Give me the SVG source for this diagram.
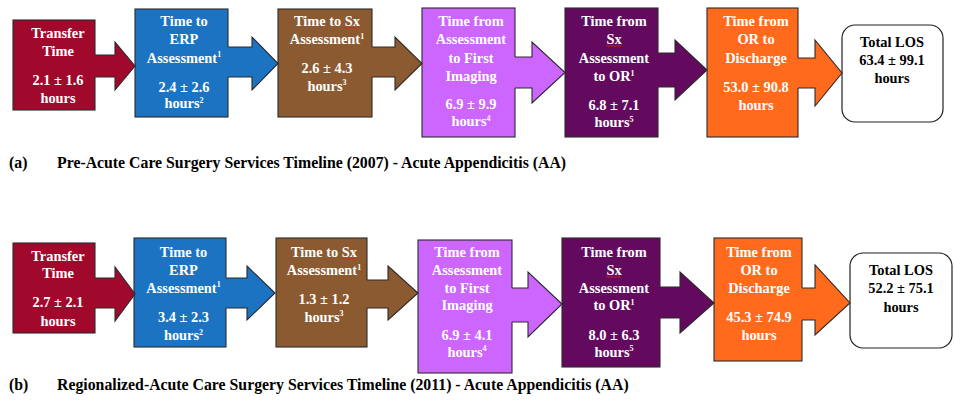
<svg xmlns="http://www.w3.org/2000/svg" width="954" height="403" viewBox="0 0 954 403">
<style>
text{font-family:"Liberation Serif","Times New Roman",serif;font-weight:bold;font-size:14.4px;text-anchor:middle;fill:#fff}
.dk{fill:#000}
.cap{font-size:15.8px;text-anchor:start;fill:#000}
.box{stroke:#2a2a2a;stroke-width:1.1}
.ol{fill:none;stroke:#2a2a2a;stroke-width:1.1;stroke-linejoin:miter}
.red{fill:#A1092C}.blue{fill:#1B73C2}.brown{fill:#8C5A30}.lpur{fill:#CC66FF}.dpur{fill:#640A5E}.orange{fill:#FF6A1C}
.tot{fill:#fff;stroke:#222;stroke-width:1.2}
.sq{fill:none;stroke:#e0201b;stroke-width:0.9}
.sup{font-size:8px}
</style>
<rect width="954" height="403" fill="#fff"/>

<!-- Row (a) nodes -->
<g id="a1"><rect class="box red" x="13" y="20" width="82" height="90"/>
<text x="58" y="38.3">Transfer</text><text x="58" y="56">Time</text><text x="58" y="85">2.1 ± 1.6</text><text x="58" y="102.7">hours</text></g>
<g id="a2"><rect class="box blue" x="135" y="9" width="93" height="108"/>
<text x="184" y="26">Time to</text><text x="184" y="44">ERP</text><text x="184" y="62.7">Assessment<tspan class="sup" dy="-5.5">1</tspan></text><text x="184" y="91.7">2.4 ± 2.6</text><text x="184" y="108.3">hours<tspan class="sup" dy="-5.5">2</tspan></text></g>
<g id="a3"><rect class="box brown" x="278" y="9" width="94" height="108"/>
<text x="327" y="26">Time to Sx</text><text x="327" y="44">Assessment<tspan class="sup" dy="-5.5">1</tspan></text><text x="327" y="73.3">2.6 ± 4.3</text><text x="327" y="90.7">hours<tspan class="sup" dy="-5.5">3</tspan></text>
<path class="sq" d="M343 28.5 l1.5 -1.2 l1.5 1.2 l1.5 -1.2 l1.5 1.2 l1.5 -1.2 l1.5 1.2 l1.5 -1.2 l1.5 1.2 l1.5 -1.2 l1.5 1.2 l1.5 -1.2"/></g>
<g id="a4"><rect class="box lpur" x="422" y="8" width="93" height="129"/>
<text x="471" y="26">Time from</text><text x="471" y="44">Assessment</text><text x="471" y="62.7">to First</text><text x="471" y="81">Imaging</text><text x="471" y="109">6.9 ± 9.9</text><text x="471" y="126">hours<tspan class="sup" dy="-5.5">4</tspan></text></g>
<g id="a5"><rect class="box dpur" x="565" y="8" width="93" height="129"/>
<text x="614" y="26">Time from</text><text x="614" y="44">Sx</text><text x="614" y="62.7">Assessment</text><text x="614" y="81">to OR<tspan class="sup" dy="-5.5">1</tspan></text><text x="614" y="110">6.8 ± 7.1</text><text x="614" y="127">hours<tspan class="sup" dy="-5.5">5</tspan></text>
<path class="sq" d="M606 46.5 l1.5 -1.2 l1.5 1.2 l1.5 -1.2 l1.5 1.2 l1.5 -1.2 l1.5 1.2 l1.5 -1.2 l1.5 1.2 l1.5 -1.2 l1.5 1.2"/></g>
<g id="a6"><rect class="box orange" x="707" y="8" width="91" height="129"/>
<text x="756" y="26">Time from</text><text x="756" y="44">OR to</text><text x="756" y="62.7">Discharge</text><text x="756" y="91.7">53.0 ± 90.8</text><text x="756" y="110">hours</text></g>
<g id="a7"><rect class="tot" x="842" y="25" width="101" height="97" rx="13"/>
<text class="dk" x="892" y="46.7">Total LOS</text><text class="dk" x="892" y="65">63.4 ± 99.1</text><text class="dk" x="892" y="83">hours</text></g>

<!-- Row (b) nodes -->
<g id="b1"><rect class="box red" x="13" y="243" width="82" height="90"/>
<text x="58" y="260.7">Transfer</text><text x="58" y="278.3">Time</text><text x="58" y="307.3">2.7 ± 2.1</text><text x="58" y="326">hours</text></g>
<g id="b2"><rect class="box blue" x="134" y="238" width="92" height="109"/>
<text x="183.5" y="256.7">Time to</text><text x="183.5" y="275">ERP</text><text x="183.5" y="292.7">Assessment<tspan class="sup" dy="-5.5">1</tspan></text><text x="183.5" y="321.7">3.4 ± 2.3</text><text x="183.5" y="340">hours<tspan class="sup" dy="-5.5">2</tspan></text></g>
<g id="b3"><rect class="box brown" x="276" y="238" width="91" height="109"/>
<text x="324" y="256.7">Time to Sx</text><text x="324" y="275">Assessment<tspan class="sup" dy="-5.5">1</tspan></text><text x="324" y="304">1.3 ± 1.2</text><text x="324" y="321.7">hours<tspan class="sup" dy="-5.5">3</tspan></text>
<path class="sq" d="M341 259.2 l1.5 -1.2 l1.5 1.2 l1.5 -1.2 l1.5 1.2 l1.5 -1.2 l1.5 1.2 l1.5 -1.2 l1.5 1.2 l1.5 -1.2 l1.5 1.2 l1.5 -1.2"/></g>
<g id="b4"><rect class="box lpur" x="418" y="240" width="94" height="133"/>
<text x="467" y="256.7">Time from</text><text x="467" y="275">Assessment</text><text x="467" y="292.7">to First</text><text x="467" y="310">Imaging</text><text x="467" y="340">6.9 ± 4.1</text><text x="467" y="356.7">hours<tspan class="sup" dy="-5.5">4</tspan></text></g>
<g id="b5"><rect class="box dpur" x="562" y="238" width="98" height="129"/>
<text x="614" y="256.7">Time from</text><text x="614" y="275">Sx</text><text x="614" y="292.7">Assessment</text><text x="614" y="310">to OR<tspan class="sup" dy="-5.5">1</tspan></text><text x="614" y="340">8.0 ± 6.3</text><text x="614" y="356.7">hours<tspan class="sup" dy="-5.5">5</tspan></text>
<path class="sq" d="M606 277.5 l1.5 -1.2 l1.5 1.2 l1.5 -1.2 l1.5 1.2 l1.5 -1.2 l1.5 1.2 l1.5 -1.2 l1.5 1.2 l1.5 -1.2 l1.5 1.2"/></g>
<g id="b6"><rect class="box orange" x="714" y="238" width="88" height="123"/>
<text x="759" y="256.7">Time from</text><text x="759" y="275">OR to</text><text x="759" y="292.7">Discharge</text><text x="759" y="321.7">45.3 ± 74.9</text><text x="759" y="340">hours</text></g>
<g id="b7"><rect class="tot" x="850" y="253" width="102" height="95" rx="13"/>
<text class="dk" x="901" y="275">Total LOS</text><text class="dk" x="901" y="293.3">52.2 ± 75.1</text><text class="dk" x="901" y="311.7">hours</text></g>

<!-- Connectors (callout arrows) -->
<g id="connectors">
<path class="red" d="M93.5 55 H115 V42 L135 66 L115 90 V77 H93.5 Z"/><path class="ol" d="M95 55 H115 V42 L135 66 L115 90 V77 H95"/>
<path class="blue" d="M226.5 47 H252 V37 L278 63.5 L252 90 V77 H226.5 Z"/><path class="ol" d="M228 47 H252 V37 L278 63.5 L252 90 V77 H228"/>
<path class="brown" d="M370.5 47 H395 V37 L422 63.5 L395 90 V77 H370.5 Z"/><path class="ol" d="M372 47 H395 V37 L422 63.5 L395 90 V77 H372"/>
<path class="lpur" d="M513.5 57 H532 V42 L565 72.5 L532 103 V88 H513.5 Z"/><path class="ol" d="M515 57 H532 V42 L565 72.5 L532 103 V88 H515"/>
<path class="dpur" d="M656.5 53 H675 V40 L707 70 L675 100 V87 H656.5 Z"/><path class="ol" d="M658 53 H675 V40 L707 70 L675 100 V87 H658"/>
<path class="orange" d="M796.5 58 H815 V40 L842 73 L815 106 V88 H796.5 Z"/><path class="ol" d="M798 58 H815 V40 L842 73 L815 106 V88 H798"/>

<path class="red" d="M93.5 278 H115 V267 L135 294 L115 321 V308 H93.5 Z"/><path class="ol" d="M95 278 H115 V267 L135 294 L115 321 V308 H95"/>
<path class="blue" d="M224.5 278 H247 V266 L275 293 L247 320 V308 H224.5 Z"/><path class="ol" d="M226 278 H247 V266 L275 293 L247 320 V308 H226"/>
<path class="brown" d="M365.5 280 H388 V266 L418 293 L388 320 V308 H365.5 Z"/><path class="ol" d="M367 280 H388 V266 L418 293 L388 320 V308 H367"/>
<path class="lpur" d="M510.5 288 H528 V272 L562 304 L528 337 V322 H510.5 Z"/><path class="ol" d="M512 288 H528 V272 L562 304 L528 337 V322 H512"/>
<path class="dpur" d="M658.5 287 H680 V272 L714 303 L680 333 V318 H658.5 Z"/><path class="ol" d="M660 287 H680 V272 L714 303 L680 333 V318 H660"/>
<path class="orange" d="M800.5 288 H815 V265 L850 303 L815 335 V320 H800.5 Z"/><path class="ol" d="M802 288 H815 V265 L850 303 L815 335 V320 H802"/>
</g>

<!-- Captions -->
<text class="cap" x="9" y="168">(a)</text>
<text class="cap" x="57" y="168">Pre-Acute Care Surgery Services Timeline (2007) - Acute Appendicitis (AA)</text>
<text class="cap" x="9" y="390">(b)</text>
<text class="cap" x="57" y="390">Regionalized-Acute Care Surgery Services Timeline (2011) - Acute Appendicitis (AA)</text>
</svg>
